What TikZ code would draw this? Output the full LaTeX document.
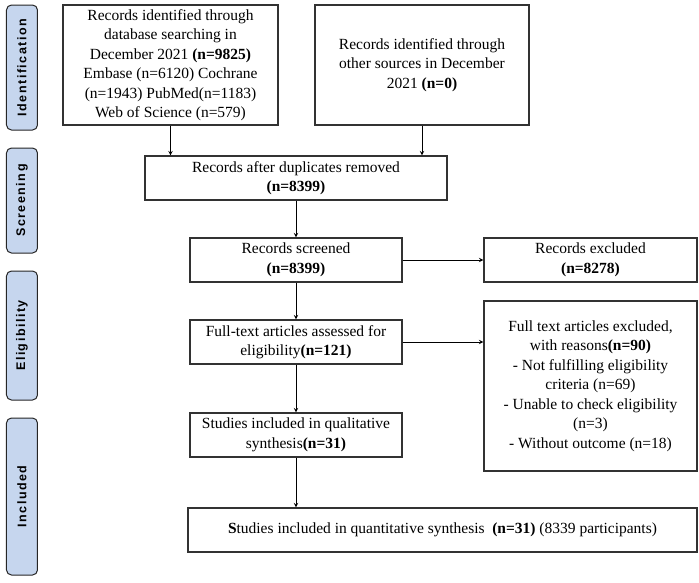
\documentclass[tikz,border=0pt]{standalone}
\usepackage{fontspec}
\setmainfont{Liberation Serif}
\newfontfamily\stagefont[LetterSpace=12]{Liberation Sans}
\usetikzlibrary{shapes.geometric, arrows}
\definecolor{stageblue}{RGB}{198,214,238}
\definecolor{boxline}{RGB}{50,50,50}
\newcommand{\stagetext}[1]{\rotatebox{90}{#1}}
\tikzstyle{box} = [rectangle, 
minimum width=212pt, 
minimum height=44pt,
text centered, 
align=center,
draw=boxline, 
line width=1.1pt,
font=\fontsize{15.5}{19.5}\selectfont]
\tikzstyle{stage} = [rectangle, rounded corners=5pt, 
minimum width=31pt, 
inner sep=0pt,
text centered, 
draw=black!85, 
line width=1pt,
fill=stageblue,
font=\stagefont\bfseries\fontsize{12.5}{14}\selectfont]
\tikzstyle{arrow} = [line width=1pt,->,>=stealth]

\begin{document}
\begin{tikzpicture}[node distance=82pt]
\useasboundingbox (-170.5pt,65pt) rectangle (528.5pt,-517pt);

\node (srcdb) [box, minimum width=215pt, minimum height=120pt] {Records identified through\\ database searching in\\ December 2021 \textbf{(n=9825)}\\ Embase (n=6120) Cochrane\\ (n=1943) PubMed(n=1183)\\ Web of Science (n=579)};
\node (srcother) [box, right of=srcdb, xshift=169.5pt, minimum width=214pt, minimum height=120pt] {Records identified through\\ other sources in December\\ 2021 \textbf{(n=0)}};
\node (dup) [box, below of=srcdb, xshift=125.5pt, yshift=-31pt, minimum width=302pt] {Records after duplicates removed\\ \textbf{(n=8399)}};
\node (screened) [box, below of=dup] {Records screened\\ \textbf{(n=8399)}};
\node (excl1) [box, right of=screened, xshift=212.5pt, minimum width=213pt] {Records excluded\\ \textbf{(n=8278)}};
\node (fulltext) [box, below of=screened] {Full-text articles assessed for\\ eligibility\textbf{(n=121)}};
\node (excl2) [box, right of=fulltext, xshift=212.5pt, yshift=-44pt, minimum width=213pt, minimum height=170pt] {Full text articles excluded,\\ with reasons\textbf{(n=90)}\\ - Not fulfilling eligibility\\ criteria (n=69)\\ - Unable to check eligibility\\ (n=3)\\ - Without outcome (n=18)};
\node (qual) [box, below of=fulltext, yshift=-11pt] {Studies included in qualitative\\ synthesis\textbf{(n=31)}};
\node (final) [box, below of=qual, xshift=146.5pt, yshift=-13pt, minimum width=509pt] {\textbf{S}tudies included in quantitative synthesis \ \textbf{(n=31)} (8339 participants)};

% stage labels on the left
\node (ident) [stage, left of=srcdb, xshift=-66.5pt, yshift=-2.5pt, minimum height=125pt] {\stagetext{Identification}};
\node (screen) [stage, below of=ident, yshift=-51pt, minimum height=105pt] {\stagetext{Screening}};
\node (elig) [stage, below of=screen, yshift=-53pt, minimum height=129pt] {\stagetext{Eligibility}};
\node (incl) [stage, below of=elig, yshift=-79pt, minimum height=157pt] {\stagetext{Included}};

\draw [arrow] (srcdb.south) -- (srcdb.south |- dup.north);
\draw [arrow] (srcother.south) -- (srcother.south |- dup.north);
\draw [arrow] (dup) -- (screened);
\draw [arrow] (screened) -- (excl1);
\draw [arrow] (screened) -- (fulltext);
\draw [arrow] (fulltext) -- (fulltext -| excl2.west);
\draw [arrow] (fulltext) -- (qual);
\draw [arrow] (qual) -- (qual |- final.north);

\end{tikzpicture}
\end{document}
